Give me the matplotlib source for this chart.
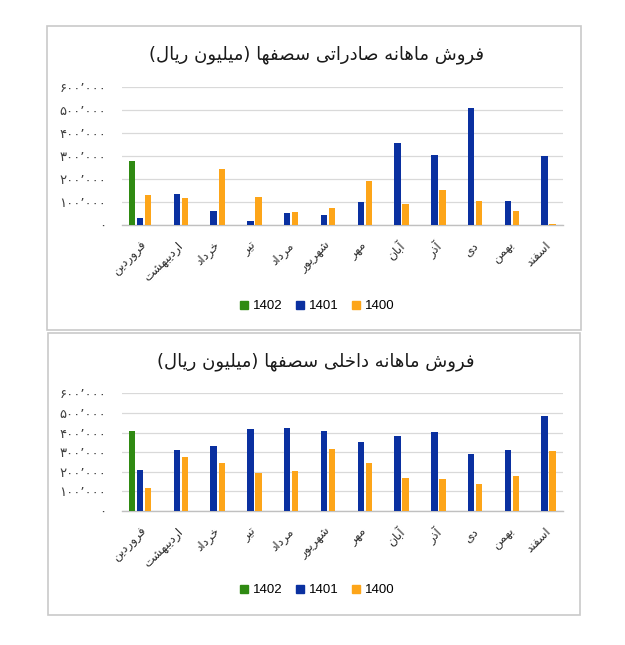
import matplotlib
matplotlib.use("Agg")
import matplotlib.pyplot as plt
from matplotlib.patches import Rectangle
from matplotlib.lines import Line2D
import numpy as np

# ---------------- data ----------------
months = ["فروردین", "اردیبهشت", "خرداد", "تیر", "مرداد", "شهریور",
          "مهر", "آبان", "آذر", "دی", "بهمن", "اسفند"]
series_names = ["1402", "1401", "1400"]

export_1402 = [277000, 0, 0, 0, 0, 0, 0, 0, 0, 0, 0, 0]
export_1401 = [30000, 134000, 62000, 19000, 53000, 43000, 100000, 355000, 303000, 507000, 104000, 299000]
export_1400 = [131000, 118000, 244000, 123000, 58000, 74000, 191000, 92000, 152000, 104000, 61000, 6000]

domestic_1402 = [408000, 0, 0, 0, 0, 0, 0, 0, 0, 0, 0, 0]
domestic_1401 = [209000, 311000, 332000, 418000, 423000, 408000, 352000, 383000, 403000, 293000, 311000, 485000]
domestic_1400 = [119000, 276000, 245000, 196000, 204000, 316000, 245000, 168000, 163000, 138000, 179000, 306000]

title_export = "فروش ماهانه صادراتی سصفها (میلیون ریال)"
title_domestic = "فروش ماهانه داخلی سصفها (میلیون ریال)"
y_ticks = [0, 100000, 200000, 300000, 400000, 500000, 600000]

colors = ["#2f8a12", "#0a30a0", "#fda519"]

# ---------------- minimal Persian shaping ----------------
FORMS = {
    '\u0627': ('\uFE8D', '\uFE8E', None, None),
    '\u0622': ('\uFE81', '\uFE82', None, None),
    '\u0628': ('\uFE8F', '\uFE90', '\uFE91', '\uFE92'),
    '\u067E': ('\uFB56', '\uFB57', '\uFB58', '\uFB59'),
    '\u062A': ('\uFE95', '\uFE96', '\uFE97', '\uFE98'),
    '\u062E': ('\uFEA5', '\uFEA6', '\uFEA7', '\uFEA8'),
    '\u062F': ('\uFEA9', '\uFEAA', None, None),
    '\u0630': ('\uFEAB', '\uFEAC', None, None),
    '\u0631': ('\uFEAD', '\uFEAE', None, None),
    '\u0632': ('\uFEAF', '\uFEB0', None, None),
    '\u0633': ('\uFEB1', '\uFEB2', '\uFEB3', '\uFEB4'),
    '\u0634': ('\uFEB5', '\uFEB6', '\uFEB7', '\uFEB8'),
    '\u0635': ('\uFEB9', '\uFEBA', '\uFEBB', '\uFEBC'),
    '\u0641': ('\uFED1', '\uFED2', '\uFED3', '\uFED4'),
    '\u0644': ('\uFEDD', '\uFEDE', '\uFEDF', '\uFEE0'),
    '\u0645': ('\uFEE1', '\uFEE2', '\uFEE3', '\uFEE4'),
    '\u0646': ('\uFEE5', '\uFEE6', '\uFEE7', '\uFEE8'),
    '\u0647': ('\uFEE9', '\uFEEA', '\uFEEB', '\uFEEC'),
    '\u0648': ('\uFEED', '\uFEEE', None, None),
    '\u06CC': ('\uFBFC', '\uFBFD', '\uFBFE', '\uFBFF'),
}


def fa(text):
    text = text.replace('\u064A', '\u06CC').replace('\u0649', '\u06CC')
    out = []
    n = len(text)
    for i, c in enumerate(text):
        if c not in FORMS:
            out.append(c)
            continue
        iso, fin, ini, med = FORMS[c]
        prev_j = i > 0 and text[i - 1] in FORMS and FORMS[text[i - 1]][2] is not None
        next_j = ini is not None and i < n - 1 and text[i + 1] in FORMS
        if prev_j and next_j:
            out.append(med)
        elif prev_j:
            out.append(fin)
        elif next_j:
            out.append(ini)
        else:
            out.append(iso)
    s = ''.join(out)[::-1]
    s = s.translate(str.maketrans({'(': ')', ')': '('}))
    return s


FA_DIGITS = str.maketrans("0123456789,", "۰۱۲۳۴۵۶۷۸۹٬")


def fa_num(v):
    return f"{int(v):,}".translate(FA_DIGITS)


plt.rcParams['font.family'] = ['DejaVu Sans']

W, H = 625, 645
fig = plt.figure(figsize=(W / 100, H / 100), dpi=100)


def fx(px):
    return px / W


def fy(py):
    return 1 - py / H


def panel(box, ax_box, title_y, legend_y, data, title):
    x0, y0, x1, y1 = box
    fig.patches.append(Rectangle((fx(x0), fy(y1)), fx(x1 - x0), (y1 - y0) / H,
                                 transform=fig.transFigure, fill=False,
                                 edgecolor="#c9c9c9", linewidth=1.2))
    ax0, ay0, ax1, ay1 = ax_box
    ax = fig.add_axes([fx(ax0), fy(ay1), fx(ax1 - ax0), (ay1 - ay0) / H])
    x = np.arange(len(months))
    slot = 0.22
    bw = 0.175
    for k, vals in enumerate(data):
        ax.bar(x + (k - 1) * slot, vals, width=bw, color=colors[k], zorder=3)
    ax.set_xlim(-0.5, len(months) - 0.5)
    ax.set_ylim(0, 600000)
    ax.set_yticks(y_ticks)
    ax.set_yticklabels([fa_num(v) for v in y_ticks], fontsize=9.5, color="#404040")
    ax.set_xticks(x)
    ax.set_xticklabels([fa(m) for m in months], rotation=45, ha='right', va='top',
                       rotation_mode='anchor', fontsize=8.8, color="#303030")
    ax.tick_params(axis='both', length=0)
    ax.tick_params(axis='y', pad=11)
    ax.tick_params(axis='x', pad=10)
    ax.grid(axis='y', color="#d9d9d9", linewidth=0.9, zorder=0)
    for s in ['top', 'right', 'left']:
        ax.spines[s].set_visible(False)
    ax.spines['bottom'].set_color("#c0c0c0")
    ax.spines['bottom'].set_linewidth(1.0)
    ax.set_facecolor('none')
    fig.text(fx((x0 + x1) / 2 + 2), fy(title_y), fa(title), ha='center', va='center',
             fontsize=13, color="#1a1a1a")
    handles = [Line2D([], [], marker='s', linestyle='none', markersize=6,
                      markerfacecolor=c, markeredgecolor=c) for c in colors]
    fig.legend(handles, series_names, loc='center', bbox_to_anchor=(fx(317), fy(legend_y)),
               ncol=3, frameon=False, handlelength=0.7, handletextpad=0.3,
               columnspacing=1.0, prop={'family': ['Liberation Sans', 'DejaVu Sans'], 'size': 9.5})
    return ax


panel((47, 26, 581, 330), (121.7, 86.7, 563, 225), 55, 306,
      [export_1402, export_1401, export_1400], title_export)
panel((48, 333, 580, 615), (121.7, 393.3, 563, 511), 362, 590,
      [domestic_1402, domestic_1401, domestic_1400], title_domestic)

fig.savefig("out.png", dpi=100, facecolor="white")
